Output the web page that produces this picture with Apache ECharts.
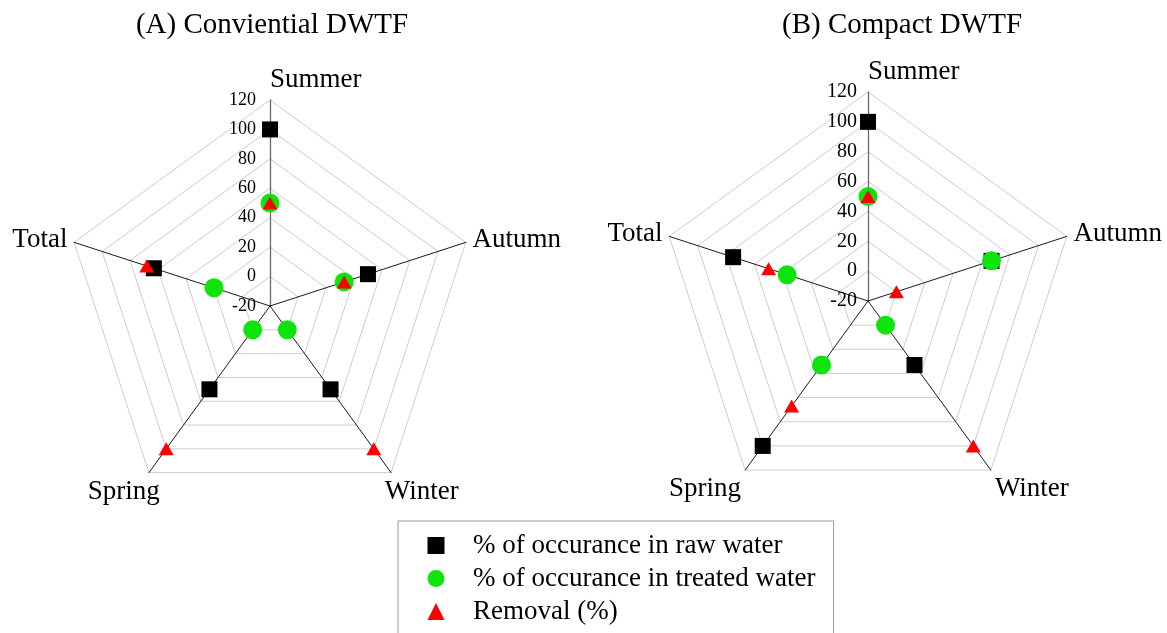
<!DOCTYPE html>
<html><head><meta charset="utf-8">
<script src="https://cdn.jsdelivr.net/npm/echarts@6/dist/echarts.min.js"></script>
<style>html,body{margin:0;padding:0;background:#fff}#c{width:1167px;height:633px}</style>
</head><body><div id="c"></div>
<script>
// Indicators listed counter-clockwise from the top (ECharts radar order)
const categories = ['Summer', 'Total', 'Spring', 'Winter', 'Autumn'];
const axisMin = -20, axisMax = 120, axisSplits = 7;
const seriesNames = ['% of occurance in raw water', '% of occurance in treated water', 'Removal (%)'];
const titles = ['(A) Conviential DWTF', '(B) Compact DWTF'];

// (A) Conventional DWTF
const rawA = [100, 63, 50, 50, 50];
const treatedA = [50, 20, 0, 0, 33];
const removalA = [50, 68, 100, 100, 33];
// (B) Compact DWTF
const rawB = [100, 75, 100, 33, 67];
const treatedB = [50, 37, 33, 0, 67];
const removalB = [50, 50, 67, 100, 0];

const FONT = 'Liberation Serif';
const dataSets = [[rawA, treatedA, removalA], [rawB, treatedB, removalB]];
const symbolDefs = [
  { symbol: 'rect', size: 16, color: '#000000', icon: 'rect' },
  { symbol: 'circle', size: 19, color: '#0ce40c', icon: 'circle' },
  { symbol: 'triangle', size: [15, 13], color: '#ff0000', icon: 'triangle' }
];

const nameStylesA = [
  { align: 'left', verticalAlign: 'bottom' },
  { align: 'right', verticalAlign: 'middle' },
  { align: 'center', verticalAlign: 'top', padding: [0, 42, 0, 0] },
  { align: 'center', verticalAlign: 'top', padding: [0, 0, 0, 53] },
  { align: 'left', verticalAlign: 'middle' }
];
const nameStylesB = [
  { align: 'left', verticalAlign: 'bottom' },
  { align: 'right', verticalAlign: 'middle', padding: [14, 0, 0, 0] },
  { align: 'right', verticalAlign: 'top' },
  { align: 'left', verticalAlign: 'top' },
  { align: 'left', verticalAlign: 'middle', padding: [14, 0, 0, 0] }
];

function makeRadar(center, radius, nameStyles, labelSize, labelMargin) {
  return {
    center: center, radius: radius, startAngle: 90, shape: 'polygon', splitNumber: axisSplits,
    indicator: categories.map(function (c, i) {
      const ind = { name: c, min: axisMin, max: axisMax, nameTextStyle: nameStyles[i] };
      if (i === 0) {
        ind.axisLabel = { show: true, fontFamily: FONT, fontSize: labelSize, color: '#000', margin: labelMargin };
        ind.axisLine = { lineStyle: { color: '#6a6a6a', width: 1.3 } };
      }
      return ind;
    }),
    axisName: { color: '#000', fontFamily: FONT, fontSize: 27 },
    axisNameGap: 7,
    nameGap: 7,
    axisLine: { show: true, lineStyle: { color: '#1a1a1a', width: 1 } },
    splitLine: { lineStyle: { color: '#cdcdcd', width: 1 } },
    splitArea: { show: false },
    axisTick: { show: false },
    axisLabel: { show: false, fontFamily: FONT, fontSize: labelSize, color: '#000', margin: labelMargin }
  };
}

const series = [];
for (let k = 0; k < 3; k++) {
  for (let j = 0; j < 2; j++) {
    series.push({
      type: 'radar', radarIndex: j, name: seriesNames[k],
      symbol: symbolDefs[k].symbol, symbolSize: symbolDefs[k].size,
      itemStyle: { color: symbolDefs[k].color },
      lineStyle: { width: 0, opacity: 0 },
      silent: true,
      data: [{ value: dataSets[j][k], name: seriesNames[k] }]
    });
  }
}

const chart = echarts.init(document.getElementById('c'), null, { renderer: 'canvas' });
chart.setOption({
  animation: false,
  backgroundColor: '#fff',
  title: titles.map(function (t, i) {
    return {
      text: t, left: i === 0 ? 272 : 902, top: 11, textAlign: 'center', padding: 0,
      textStyle: { fontFamily: FONT, fontSize: 29, fontWeight: 'normal', color: '#000' }
    };
  }),
  radar: [
    makeRadar([270, 306], 206, nameStylesA, 18, 14),
    makeRadar([868, 301], 209, nameStylesB, 20, 11)
  ],
  legend: {
    orient: 'vertical', left: 398, top: 521, height: 140,
    padding: [11, 18, 20, 29.5],
    itemGap: 6, itemWidth: 17, itemHeight: 17,
    borderColor: '#9a9a9a', borderWidth: 1, backgroundColor: '#fff',
    selectedMode: false,
    data: seriesNames.map(function (n, k) { return { name: n, icon: symbolDefs[k].icon }; }),
    textStyle: { fontFamily: FONT, fontSize: 27, color: '#000', padding: [0, 0, 0, 23.5] }
  },
  series: series
});
</script>
</body></html>
